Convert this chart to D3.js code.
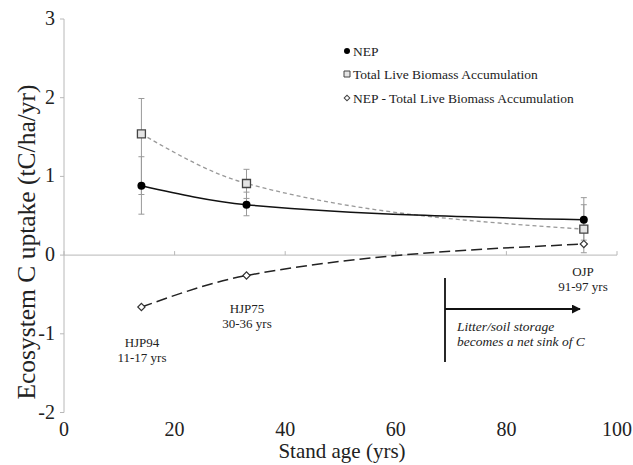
<!DOCTYPE html>
<html><head><meta charset="utf-8">
<script src="https://cdn.jsdelivr.net/npm/d3@7"></script>
<style>body{margin:0;background:#fff}</style>
</head><body>
<svg id="c" width="633" height="465" font-family="'Liberation Serif', serif"></svg>
<script>
const ages = [14, 33, 94];
const nep = [0.88, 0.64, 0.45];
const nepLow = [0.52, 0.50, 0.19];
const nepHigh = [1.25, 0.80, 0.73];
const biomass = [1.54, 0.91, 0.33];
const bioLow = [0.77, 0.72, 0.03];
const bioHigh = [1.99, 1.09, 0.64];
const diff = [-0.66, -0.26, 0.14];
const siteNames = ["HJP94", "HJP75", "OJP"];
const siteAges = ["11-17 yrs", "30-36 yrs", "91-97 yrs"];
const xTicks = [0, 20, 40, 60, 80, 100];
const yTicks = [-2, -1, 0, 1, 2, 3];
const legendLabels = ["NEP", "Total Live Biomass Accumulation", "NEP - Total Live Biomass Accumulation"];

const svg = d3.select("#c");
const x = d3.scaleLinear().domain([0, 100]).range([64, 617]);
const y = d3.scaleLinear().domain([-2, 3]).range([412.5, 19]);
const axisColor = "#b8b8b8";
const FF = "'Liberation Serif', 'Times New Roman', serif";

// y axis
svg.append("line").attr("x1", x(0)).attr("x2", x(0)).attr("y1", y(-2)).attr("y2", y(3)).attr("stroke", axisColor);
yTicks.forEach(t => {
  svg.append("line").attr("x1", x(0) - 4).attr("x2", x(0)).attr("y1", y(t)).attr("y2", y(t)).attr("stroke", axisColor);
  svg.append("text").attr("x", x(0) - 9).attr("y", y(t) + 6).attr("text-anchor", "end").attr("font-family", FF)
    .attr("font-size", 20).attr("fill", "#222").text(t);
});
// x axis at y=0
svg.append("line").attr("x1", x(0)).attr("x2", x(100)).attr("y1", y(0)).attr("y2", y(0)).attr("stroke", axisColor);
xTicks.forEach(t => {
  svg.append("line").attr("x1", x(t)).attr("x2", x(t)).attr("y1", y(0) - 4).attr("y2", y(0)).attr("stroke", axisColor);
  svg.append("text").attr("x", x(t)).attr("y", 436).attr("text-anchor", "middle").attr("font-family", FF)
    .attr("font-size", 20).attr("fill", "#222").text(t);
});

// axis titles
svg.append("text").attr("x", 342).attr("y", 458).attr("text-anchor", "middle").attr("font-family", FF)
  .attr("font-size", 21).attr("fill", "#222").text("Stand age (yrs)");
svg.append("text").attr("transform", "translate(35,242) rotate(-90)").attr("text-anchor", "middle").attr("font-family", FF)
  .attr("font-size", 25.5).attr("fill", "#222").text("Ecosystem C uptake (tC/ha/yr)");

// error bars
function errBars(low, high) {
  ages.forEach((a, i) => {
    const g = svg.append("g").attr("stroke", "#999").attr("stroke-width", 1);
    g.append("line").attr("x1", x(a)).attr("x2", x(a)).attr("y1", y(low[i])).attr("y2", y(high[i]));
    [low[i], high[i]].forEach(v => g.append("line").attr("x1", x(a) - 3).attr("x2", x(a) + 3).attr("y1", y(v)).attr("y2", y(v)));
  });
}
errBars(bioLow, bioHigh);
errBars(nepLow, nepHigh);

const line = d3.line().x((d, i) => x(ages[i])).y(d => y(d)).curve(d3.curveMonotoneX);

svg.append("path").attr("d", line(biomass)).attr("fill", "none").attr("stroke", "#999").attr("stroke-width", 1.3).attr("stroke-dasharray", "4,3");
svg.append("path").attr("d", line(nep)).attr("fill", "none").attr("stroke", "#111").attr("stroke-width", 1.5);
svg.append("path").attr("d", line(diff)).attr("fill", "none").attr("stroke", "#222").attr("stroke-width", 1.5).attr("stroke-dasharray", "11,5");

// markers
const sq = d3.symbol().type(d3.symbolSquare).size(64);
const dm = d3.symbol().type(d3.symbolSquare).size(26);
ages.forEach((a, i) => {
  svg.append("path").attr("d", sq()).attr("transform", `translate(${x(a)},${y(biomass[i])})`)
    .attr("fill", "#e4e4e4").attr("stroke", "#444").attr("stroke-width", 1.3);
  svg.append("circle").attr("cx", x(a)).attr("cy", y(nep[i])).attr("r", 4).attr("fill", "#000");
  svg.append("path").attr("d", dm()).attr("transform", `translate(${x(a)},${y(diff[i])}) rotate(45)`)
    .attr("fill", "#fff").attr("stroke", "#333").attr("stroke-width", 1.2);
});

// site labels
const labelPos = [[142, 347], [247, 313], [583, 276]];
siteNames.forEach((s, i) => {
  svg.append("text").attr("x", labelPos[i][0]).attr("y", labelPos[i][1]).attr("text-anchor", "middle").attr("font-family", FF)
    .attr("font-size", 13).attr("fill", "#222").text(s);
  svg.append("text").attr("x", labelPos[i][0]).attr("y", labelPos[i][1] + 15).attr("text-anchor", "middle").attr("font-family", FF)
    .attr("font-size", 13).attr("fill", "#222").text(siteAges[i]);
});

// legend
const lgX = 347, lgY = [51, 74, 98];
svg.append("circle").attr("cx", lgX).attr("cy", lgY[0]).attr("r", 3).attr("fill", "#000");
svg.append("path").attr("d", d3.symbol().type(d3.symbolSquare).size(36)()).attr("transform", `translate(${lgX},${lgY[1]})`)
  .attr("fill", "#e4e4e4").attr("stroke", "#444");
svg.append("path").attr("d", d3.symbol().type(d3.symbolSquare).size(16)()).attr("transform", `translate(${lgX},${lgY[2]}) rotate(45)`)
  .attr("fill", "#fff").attr("stroke", "#444");
legendLabels.forEach((l, i) => {
  svg.append("text").attr("x", lgX + 6).attr("y", lgY[i] + 4.5).attr("font-family", FF).attr("font-size", 13.5).attr("fill", "#222").text(l);
});

// annotation
svg.append("line").attr("x1", 445).attr("x2", 445).attr("y1", 278).attr("y2", 362).attr("stroke", "#111").attr("stroke-width", 1.8);
svg.append("defs").append("marker").attr("id", "ah").attr("viewBox", "0 0 10 10").attr("refX", 9).attr("refY", 5)
  .attr("markerWidth", 5).attr("markerHeight", 5).attr("orient", "auto")
  .append("path").attr("d", "M0,0 L10,5 L0,10 Z").attr("fill", "#111");
svg.append("line").attr("x1", 445).attr("x2", 580).attr("y1", 309).attr("y2", 309).attr("stroke", "#111").attr("stroke-width", 1.8).attr("marker-end", "url(#ah)");
svg.append("text").attr("x", 457).attr("y", 331).attr("font-family", FF).attr("font-size", 13.5).attr("font-style", "italic").attr("fill", "#222").text("Litter/soil storage");
svg.append("text").attr("x", 457).attr("y", 346).attr("font-family", FF).attr("font-size", 13.5).attr("font-style", "italic").attr("fill", "#222").text("becomes a net sink of C");
</script>
</body></html>
